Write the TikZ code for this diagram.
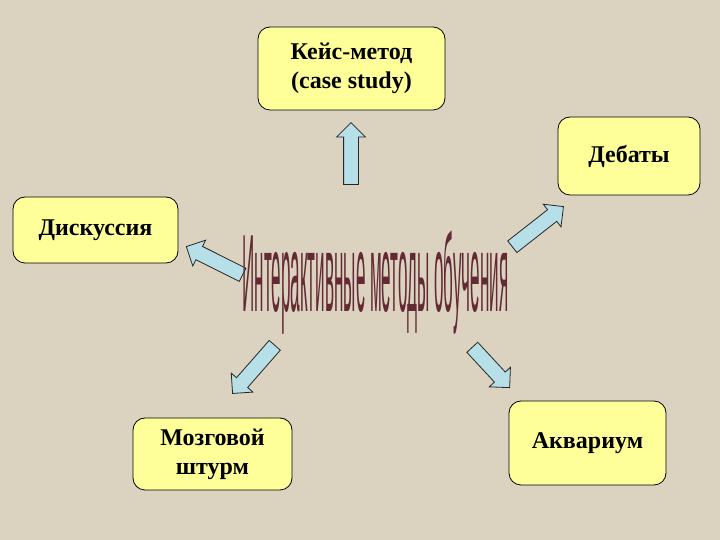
\documentclass[tikz,border=0pt]{standalone}
\usepackage{fontspec}
\setmainfont{Liberation Serif}
\newfontfamily\titlefont{Liberation Sans}
\usetikzlibrary{shapes.arrows,positioning}
\definecolor{bgbeige}{RGB}{219,210,192}
\definecolor{boxyellow}{RGB}{255,255,153}
\definecolor{arrblue}{RGB}{183,223,232}
\definecolor{titlered}{RGB}{100,42,52}
\newcommand{\headw}{28pt}
\tikzset{
    boxsty/.style={draw=black, line width=0.8pt, fill=boxyellow, rounded corners=12pt,
                   align=center, inner sep=0pt, font=\bfseries\fontsize{24}{29}\selectfont},
    arrsty/.style={single arrow, draw=black!85, line width=0.8pt, fill=arrblue,
                   minimum width=\headw, single arrow head extend=7pt,
                   inner xsep=0pt, inner ysep=7pt, anchor=tail},
    titlesty/.style={font=\titlefont\fontsize{110}{110}\selectfont, text=titlered,
                     xscale=0.155, transform shape, inner sep=0pt, anchor=base},
}

\begin{document}
\begin{tikzpicture}[x=1pt,y=1pt]
  \fill[bgbeige] (0,0) rectangle (720,540);
  \useasboundingbox (0,0) rectangle (720,540);

  % boxes
  \node (case)    [boxsty, minimum width=187pt, minimum height=83pt] at (351.5,471.5) {Кейс-метод\\(case study)};
  \node (debates) [boxsty, minimum width=142pt, minimum height=78pt] at (629,384) {Дебаты};
  \node (discuss) [boxsty, minimum width=165pt, minimum height=66pt] at (95.5,310) {Дискуссия};
  \node (brain)   [boxsty, minimum width=159pt, minimum height=72pt] at (212.5,86) {Мозговой\\штурм};
  \node (aqua)    [boxsty, minimum width=157pt, minimum height=84pt] at (587.5,97) {Аквариум};

  % arrows
  \node (arrcase)    [arrsty, minimum height=62pt, rotate=90]    at (351,355) {};
  \node (arrdiscuss) [arrsty, minimum height=63pt, rotate=153.4] at (243,265) {};
  \node (arrdebates) [arrsty, minimum height=65pt, rotate=38.1]  at (512,293) {};
  \node (arrbrain)   [arrsty, minimum height=64pt, rotate=228.8] at (275,195) {};
  \node (arraqua)    [arrsty, minimum height=55pt, rotate=-47.2] at (472,193) {};

  % title
  \node (title) [titlesty] at (375.5,228) {Интерактивные методы обучения};
\end{tikzpicture}
\end{document}
